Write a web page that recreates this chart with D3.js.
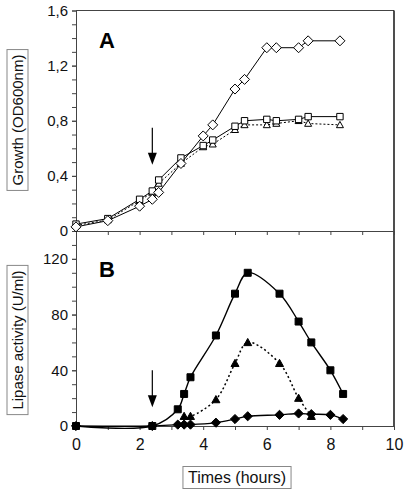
<!DOCTYPE html>
<html><head><meta charset="utf-8">
<script src="https://cdn.jsdelivr.net/npm/d3@7"></script>
<style>body{margin:0;background:#fff}svg{display:block}text{font-family:"Liberation Sans",Arial,sans-serif}</style>
</head><body><svg id="c" width="410" height="499"></svg>
<script>
// ---- data ----
const growthDiamondX = [0,1,2,2.4,2.6,3.3,4,4.3,5,5.3,6,6.3,7,7.3,8.3];
const growthDiamondY = [0.03,0.075,0.18,0.23,0.28,0.49,0.69,0.77,1.03,1.10,1.33,1.33,1.33,1.38,1.38];
const growthSquareX = [0,1,2,2.4,2.6,3.3,4,4.3,5,5.3,6,6.3,7,7.3,8.3];
const growthSquareY = [0.05,0.09,0.23,0.29,0.37,0.53,0.62,0.66,0.76,0.80,0.81,0.80,0.81,0.83,0.83];
const growthTriangleX = [0,1,2,2.4,2.6,3.3,4,4.3,5,5.3,6,6.3,7,7.3,8.3];
const growthTriangleY = [0.04,0.08,0.22,0.28,0.345,0.49,0.61,0.63,0.735,0.77,0.77,0.78,0.80,0.78,0.77];

const lipaseSquareX = [0,2.4,3.2,3.4,3.6,4.4,5,5.4,6.4,7,7.4,8,8.4];
const lipaseSquareY = [0,0,12,23,35,65,95,110,95,75,60,40,23];
const lipaseTriangleX = [3.4,3.6,4.4,5,5.4,6.4,7,7.4];
const lipaseTriangleY = [7,7,19,45,60,45,20,7];
const lipaseDiamondX = [0,2.4,3.2,3.4,3.6,4.4,5,5.4,6.4,7,7.4,8,8.4];
const lipaseDiamondY = [0,0,1,1,1,2.4,5,7,8,9,8.5,8,5];

const xTicks = [0,1,2,3,4,5,6,7,8,9,10];
const xTickLabels = ["0","","2","","4","","6","","8","","10"];
const growthTicks = [0,0.4,0.8,1.2,1.6];
const growthTickLabels = ["0","0,4","0,8","1,2","1,6"];
const lipaseTicks = [0,40,80,120];
const lipaseTickLabels = ["0","40","80","120"];
const arrowTime = 2.4;
const arrowGrowth = [0.75,0.48];
const arrowLipase = [40,13.5];

// ---- layout ----
const svg = d3.select("#c");
const x = d3.scaleLinear([0,10],[76,394]);
const yA = d3.scaleLinear([0,1.6],[231,10.5]);
const yB = d3.scaleLinear([0,140],[426,231]);
const axisCol = "#444";

// frame
svg.append("line").attr("x1",x(0)).attr("x2",x(10)).attr("y1",yA(1.6)).attr("y2",yA(1.6)).attr("stroke",axisCol);
svg.append("line").attr("x1",x(10)).attr("x2",x(10)).attr("y1",yA(1.6)).attr("y2",yB(0)).attr("stroke","#222").attr("stroke-width",1.6);

function styleAxis(g){
  g.select(".domain").attr("stroke",axisCol);
  g.selectAll(".tick line").attr("stroke",axisCol);
  g.selectAll("text").attr("fill","#111").style("font-size","15px");
}
// top panel axes
svg.append("g").attr("transform",`translate(${x(0)},0)`)
  .call(d3.axisLeft(yA).tickValues(d3.range(0,17).map(i=>i/10)).tickSize(4).tickFormat("").tickSizeOuter(0))
  .call(styleAxis);
svg.append("g").attr("transform",`translate(${x(0)},0)`)
  .call(d3.axisLeft(yA).tickValues(growthTicks).tickSize(4).tickPadding(4).tickFormat((d,i)=>growthTickLabels[i]).tickSizeOuter(0))
  .call(styleAxis);
svg.append("g").attr("transform",`translate(0,${yA(0)})`)
  .call(d3.axisBottom(x).tickValues(xTicks).tickSize(4).tickFormat("").tickSizeOuter(0))
  .call(styleAxis);
// bottom panel axes
svg.append("g").attr("transform",`translate(${x(0)},0)`)
  .call(d3.axisLeft(yB).tickValues(d3.range(0,15).map(i=>i*10)).tickSize(4).tickFormat("").tickSizeOuter(0))
  .call(styleAxis);
svg.append("g").attr("transform",`translate(${x(0)},0)`)
  .call(d3.axisLeft(yB).tickValues(lipaseTicks).tickSize(4).tickPadding(4).tickFormat((d,i)=>lipaseTickLabels[i]).tickSizeOuter(0))
  .call(styleAxis);
svg.append("g").attr("transform",`translate(0,${yB(0)})`)
  .call(d3.axisBottom(x).tickValues(xTicks).tickSize(4).tickPadding(9).tickFormat((d,i)=>xTickLabels[i]).tickSizeOuter(0))
  .call(g=>{styleAxis(g);g.selectAll("text").style("font-size","16px");});

// markers
function diamond(s){return `M0,${-s}L${s},0L0,${s}L${-s},0Z`;}
function square(s){return `M${-s},${-s}H${s}V${s}H${-s}Z`;}
function triangle(s){return `M0,${-s}L${s},${s*0.8}L${-s},${s*0.8}Z`;}

function series(xs, ys, yS, opts){
  const pts = xs.map((v,i)=>[x(v), yS(ys[i])]);
  const line = d3.line().curve(opts.curve||d3.curveLinear);
  svg.append("path").attr("d",line(pts)).attr("fill","none").attr("stroke","#000")
    .attr("stroke-width",opts.sw||1).attr("stroke-dasharray",opts.dash||null);
  svg.append("g").selectAll("path").data(pts).join("path")
    .attr("transform",d=>`translate(${d[0]},${d[1]})`)
    .attr("d",opts.shape)
    .attr("fill",opts.fill).attr("stroke","#000").attr("stroke-width",1);
}
series(growthTriangleX, growthTriangleY, yA, {shape:triangle(3.5), fill:"#fff", dash:"2,2"});
series(growthSquareX, growthSquareY, yA, {shape:square(3.2), fill:"#fff"});
series(growthDiamondX, growthDiamondY, yA, {shape:diamond(5), fill:"#fff"});

const smooth = d3.curveCatmullRom.alpha(0.5);
series(lipaseTriangleX, lipaseTriangleY, yB, {shape:triangle(4), fill:"#000", dash:"2,2.5", sw:1.5, curve:smooth});
series(lipaseSquareX, lipaseSquareY, yB, {shape:square(3.5), fill:"#000", sw:1.4, curve:smooth});
series(lipaseDiamondX, lipaseDiamondY, yB, {shape:diamond(4.6), fill:"#000", sw:1.4, curve:smooth});

// arrows
function arrow(y1,y2){
  const ax = x(arrowTime);
  svg.append("line").attr("x1",ax).attr("x2",ax).attr("y1",y1).attr("y2",y2-10).attr("stroke","#000").attr("stroke-width",1.2);
  svg.append("path").attr("d",`M${ax-4.5},${y2-12}L${ax+4.5},${y2-12}L${ax},${y2}Z`).attr("fill","#000");
}
arrow(yA(arrowGrowth[0]), yA(arrowGrowth[1]));
arrow(yB(arrowLipase[0]), yB(arrowLipase[1]));

// panel letters
svg.append("text").attr("x",99).attr("y",48).text("A").style("font-size","22px").style("font-weight","bold");
svg.append("text").attr("x",99).attr("y",277).text("B").style("font-size","22px").style("font-weight","bold");

// boxed labels
function boxedLabel(text, cx, cy, rot, size){
  const g = svg.append("g").attr("transform",`translate(${cx},${cy}) rotate(${rot})`);
  const t = g.append("text").attr("text-anchor","middle").attr("dominant-baseline","central")
    .style("font-size",size+"px").attr("fill","#111").text(text);
  const bb = t.node().getBBox();
  g.insert("rect","text").attr("x",bb.x-5).attr("y",-size/2-3).attr("width",bb.width+10).attr("height",size+6)
    .attr("fill","#fff").attr("stroke","#888").attr("stroke-width",1);
}
boxedLabel("Growth (OD600nm)", 17.5, 120, -90, 15);
boxedLabel("Lipase activity (U/ml)", 17.5, 340, -90, 15);
boxedLabel("Times (hours)", 237, 477.5, 0, 16);
</script></body></html>
